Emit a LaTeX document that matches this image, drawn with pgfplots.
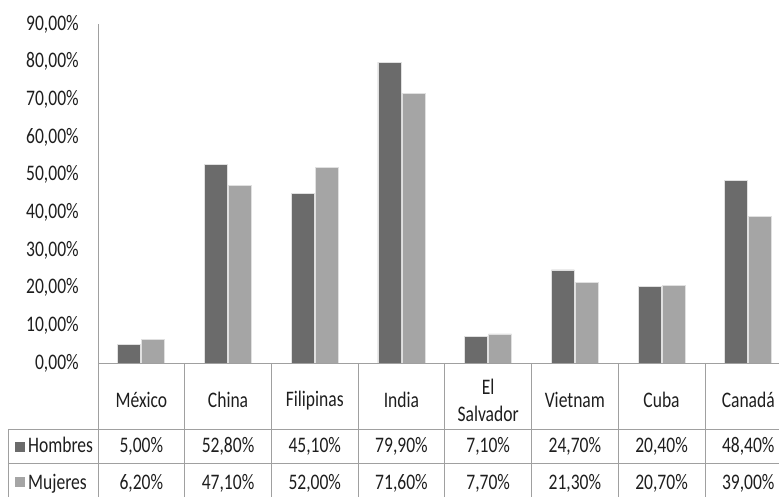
\documentclass[border=0pt]{standalone}
\usepackage{pgfplots}
\pgfplotsset{compat=1.18}
\usepackage{pgfplotstable}
\usepackage{fontspec}
\setmainfont{Carlito}[FakeStretch=0.79]
\definecolor{hombres}{HTML}{6B6B6B}
\definecolor{mujeres}{HTML}{A5A5A5}
\definecolor{rule}{HTML}{A0A0A0}
\definecolor{txt}{HTML}{1E1E1E}
\newcommand\chartfont{\fontsize{22.2bp}{27bp}\selectfont}
\pgfkeys{/pgf/number format/.cd, fixed, fixed zerofill, precision=2, use comma, assume math mode=true}

\pgfplotstableread{
idx hombres mujeres
0 5.0  6.2
1 52.8 47.1
2 45.1 52.0
3 79.9 71.6
4 7.1  7.7
5 24.7 21.3
6 20.4 20.7
7 48.4 39.0
}\datos

\begin{document}
\begin{tikzpicture}[x=1bp,y=1bp,font=\chartfont,text=txt]
\clip (-98,-134) rectangle (681,363);
\begin{axis}[
  at={(0,0)}, anchor=south west,
  scale only axis, width=693.6bp, height=339bp,
  xmin=-0.5, xmax=7.5, ymin=0, ymax=90,
  axis x line=bottom, axis y line=left,
  axis line style={-, draw=rule, line width=0.8bp},
  tick style={draw=none},
  ytick={0,10,...,90},
  yticklabel={\pgfmathprintnumber{\tick}\%},
  yticklabel style={anchor=east, inner sep=0pt, xshift=-17bp, font=\chartfont, text=txt},
  xtick={0,...,7},
  xticklabels={México,China,Filipinas,India,{El\\Salvador},Vietnam,Cuba,Canadá},
  xticklabel style={anchor=center, yshift=-33bp, align=center, font=\chartfont, text=txt},
  ybar=1bp, bar width=23bp,
]
\addplot[fill=hombres, draw=white!88!black, line width=0.8bp] table[x=idx, y=hombres] {\datos};
\addplot[fill=mujeres, draw=white!88!black, line width=0.8bp] table[x=idx, y=mujeres] {\datos};
\end{axis}
% data table below the plot
\begin{scope}[draw=rule, line width=0.8bp]
  \foreach \k in {0,...,8} \draw (86.7*\k,0) -- (86.7*\k,-134);
  \draw (-90,-66) -- (700,-66);
  \draw (-90,-100) -- (700,-100);
  \draw (-90,-66) -- (-90,-134);
\end{scope}
\fill[hombres] (-83,-89) rectangle (-73,-79);
\fill[mujeres] (-83,-124) rectangle (-73,-114);
\node[anchor=base west, inner sep=0pt] at (-70,-90) {Hombres};
\node[anchor=base west, inner sep=0pt] at (-70,-127) {Mujeres};
\foreach \i in {0,...,7} {
  \pgfplotstablegetelem{\i}{hombres}\of\datos
  \node[anchor=base, inner sep=0pt] at (43.35+86.7*\i,-90) {\pgfmathprintnumber{\pgfplotsretval}\%};
  \pgfplotstablegetelem{\i}{mujeres}\of\datos
  \node[anchor=base, inner sep=0pt] at (43.35+86.7*\i,-127) {\pgfmathprintnumber{\pgfplotsretval}\%};
}
\end{tikzpicture}
\end{document}
